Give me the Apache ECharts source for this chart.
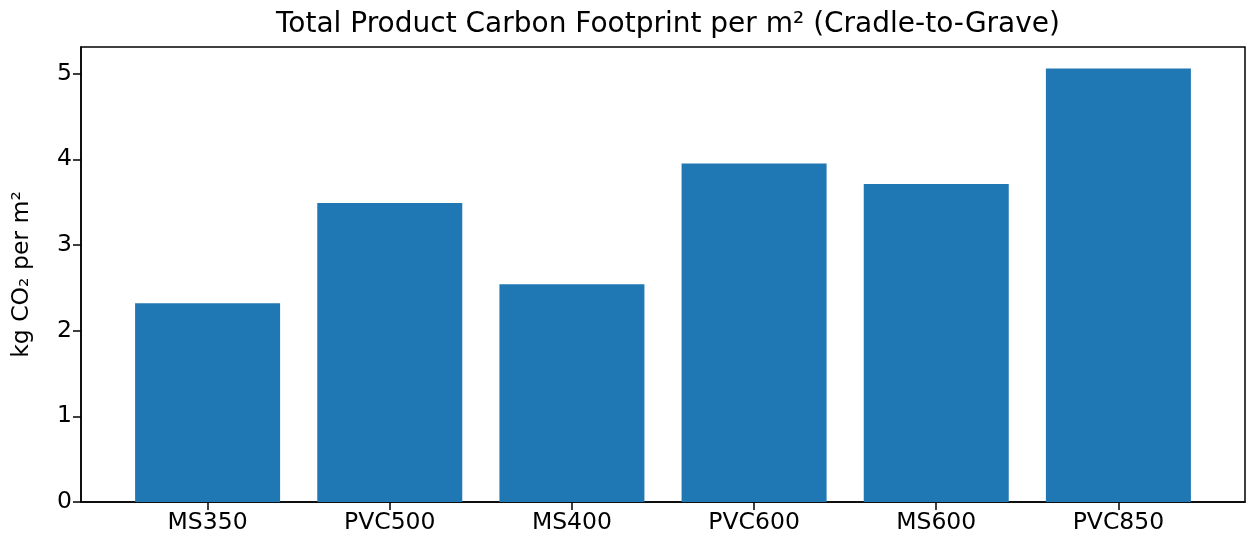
<!DOCTYPE html>
<html>
<head>
<meta charset="utf-8">
<script src="https://cdn.jsdelivr.net/npm/echarts@6/dist/echarts.min.js"></script>
<style>
  html, body { margin: 0; padding: 0; background: #fff; }
  #main { width: 1247px; height: 546px; }
</style>
</head>
<body>
<div id="main"></div>
<script>
// 数据
var categories = ['MS350', 'PVC500', 'MS400', 'PVC600', 'MS600', 'PVC850'];
var values = [2.32, 3.49, 2.54, 3.95, 3.71, 5.06];
var yTicks = [0, 1, 2, 3, 4, 5];

(function () {
  var myChart = echarts.init(document.getElementById('main'));
  var positions = categories.map(function (c, i) { return i; });
  var font = 'DejaVu Sans';

  var option = {
    animation: false,
    title: {
      text: 'Total Product Carbon Footprint per m² (Cradle-to-Grave)',
      left: 663,
      textAlign: 'center',
      top: 6,
      textStyle: { fontFamily: font, fontSize: 28, fontWeight: 'normal', color: '#000' }
    },
    grid: {
      left: 81,
      right: 2,
      top: 47,
      bottom: 44,
      show: true,
      borderColor: '#000',
      borderWidth: 1.5
    },
    xAxis: {
      type: 'value',
      min: -0.695,
      max: 5.695,
      splitLine: { show: false },
      axisLine: { show: true, onZero: false, lineStyle: { color: '#000', width: 1.5 } },
      axisTick: {
        show: true,
        length: 8,
        customValues: positions,
        lineStyle: { color: '#000', width: 1.5 }
      },
      axisLabel: {
        customValues: positions,
        margin: 9,
        fontFamily: font,
        fontSize: 23.5,
        color: '#000',
        formatter: function (v) { return categories[Math.round(v)]; }
      }
    },
    yAxis: {
      type: 'value',
      min: 0,
      max: 5.31,
      name: 'kg CO₂ per m²',
      nameLocation: 'middle',
      nameGap: 47,
      nameTextStyle: { fontFamily: font, fontSize: 23.5, color: '#000' },
      splitLine: { show: false },
      // y轴固定在左边
      axisLine: { show: true, onZero: false, lineStyle: { color: '#000', width: 1.5 } },
      axisTick: {
        show: true,
        length: 8,
        customValues: yTicks,
        lineStyle: { color: '#000', width: 1.5 }
      },
      axisLabel: {
        customValues: yTicks,
        margin: 9,
        fontFamily: font,
        fontSize: 23.5,
        color: '#000'
      }
    },
    series: [
      {
        type: 'bar',
        barWidth: 145,
        itemStyle: { color: '#1f77b4' },
        data: values.map(function (v, i) { return [positions[i], v]; })
      }
    ]
  };

  myChart.setOption(option);
  window.addEventListener('resize', () => myChart.resize());
})();
</script>
</body>
</html>
